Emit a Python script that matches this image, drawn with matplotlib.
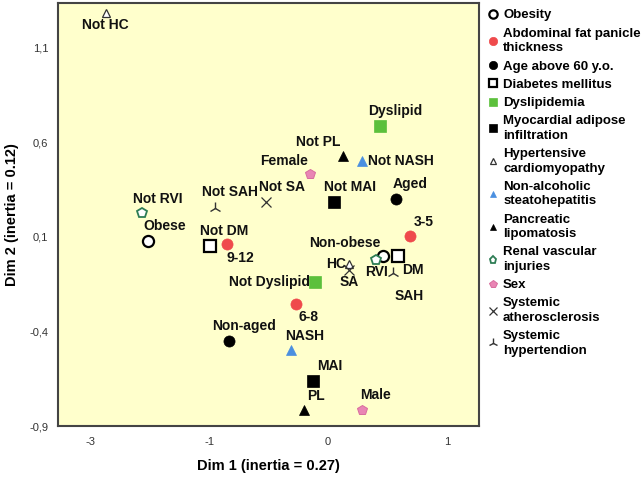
import matplotlib
matplotlib.use("Agg")
import matplotlib.pyplot as plt
from matplotlib.lines import Line2D

plt.rcParams['font.family'] = ['Liberation Sans Narrow', 'Liberation Sans', 'DejaVu Sans']

# legend groups (variables)
groups = ["Obesity", "Abdominal fat panicle\nthickness", "Age above 60 y.o.",
          "Diabetes mellitus", "Dyslipidemia", "Myocardial adipose\ninfiltration",
          "Hypertensive\ncardiomyopathy", "Non-alcoholic\nsteatohepatitis",
          "Pancreatic\nlipomatosis", "Renal vascular\ninjuries", "Sex",
          "Systemic\natherosclerosis", "Systemic\nhypertendion"]

# category points
pt_labels = ["Not HC", "Not RVI", "Obese", "Not SAH", "Not SA", "Not DM", "9-12",
             "Female", "Not PL", "Not NASH", "Dyslipid", "Not MAI", "Aged", "3-5",
             "Non-obese", "RVI", "DM", "SAH", "HC", "SA", "Not Dyslipid", "6-8",
             "Non-aged", "NASH", "MAI", "PL", "Male"]
pt_x = [-1.87, -1.56, -1.51, -0.95, -0.52, -0.99, -0.85,
        -0.15, 0.13, 0.29, 0.44, 0.05, 0.57, 0.69,
        0.46, 0.40, 0.59, 0.55, 0.18, 0.18, -0.11, -0.27,
        -0.83, -0.31, -0.13, -0.20, 0.29]
pt_y = [1.282, 0.227, 0.079, 0.252, 0.284, 0.052, 0.063,
        0.431, 0.526, 0.50, 0.689, 0.284, 0.30, 0.105,
        0.0, -0.021, 0.0, -0.09, -0.042, -0.074, -0.137, -0.253,
        -0.448, -0.50, -0.663, -0.816, -0.816]
pt_group = [6, 9, 0, 12, 11, 3, 1,
            10, 8, 7, 4, 5, 2, 1,
            0, 9, 3, 12, 6, 11, 4, 1,
            2, 7, 5, 8, 10]

x_ticks = [-2, -1, 0, 1]
x_ticklabels = ["-3", "-1", "0", "1"]
y_ticks = [-0.9, -0.4, 0.1, 0.6, 1.1]
y_ticklabels = ["-0,9", "-0,4", "0,1", "0,6", "1,1"]

# marker style per group: marker, face, edge, size, edge width
styles = [
    ("o", "white", "black", 8, 1.6),
    ("o", "#ef4a4c", "#ef4a4c", 8, 0.5),
    ("o", "black", "black", 8, 0.5),
    ("s", "white", "black", 8, 1.6),
    ("s", "#5cc03c", "#5cc03c", 8, 0.5),
    ("s", "black", "black", 8, 0.5),
    ("^", "white", "#333333", 6, 0.9),
    ("^", "#4a8fe0", "#4a8fe0", 6.5, 0.5),
    ("^", "black", "black", 6.5, 0.5),
    ("p", "white", "#2e7d55", 7, 1.3),
    ("p", "#e985b4", "#d86c9e", 7.5, 0.7),
    ("x", "none", "#333333", 7, 0.9),
    ("2", "none", "#333333", 9, 1.0),
]

# label offsets in pixels (dx, dy, ha)
offsets = [(0, -12, "center"), (15, 14, "center"), (16, 15, "center"), (15, 16, "center"),
           (16, 15, "center"), (14, 15, "center"), (13, -14, "center"),
           (-26, 13, "center"), (-25, 14, "center"), (6, 0, "left"), (15, 15, "center"),
           (16, 15, "center"), (14, 15, "center"), (14, 14, "center"),
           (-38, 13, "center"), (1, -12, "center"), (15, -14, "center"), (16, -23, "center"),
           (-3, 0, "right"), (0, -12, "center"), (-5, 0, "right"), (13, -13, "center"),
           (15, 15, "center"), (14, 14, "center"), (17, 15, "center"), (12, 14, "center"),
           (13, 15, "center")]

fig = plt.figure(figsize=(6.41, 4.78), dpi=100)
ax = fig.add_axes([58 / 641, 52 / 478, 421 / 641, 423 / 478])
ax.set_facecolor("#ffffcc")

for i in range(len(pt_labels)):
    m, fc, ec, ms, mew = styles[pt_group[i]]
    ax.plot(pt_x[i], pt_y[i], marker=m, markerfacecolor=fc, markeredgecolor=ec,
            markersize=ms, markeredgewidth=mew, linestyle="none", zorder=3)
    dx, dy, ha = offsets[i]
    ax.annotate(pt_labels[i], (pt_x[i], pt_y[i]), xytext=(dx, dy),
                textcoords="offset pixels", ha=ha, va="center",
                fontsize=10, fontweight="bold", color="#111111")

ax.set_xlim(-2.27, 1.27)
ax.set_ylim(-0.9, 1.337)
ax.set_xticks(x_ticks)
ax.set_xticklabels(x_ticklabels)
ax.set_yticks(y_ticks)
ax.set_yticklabels(y_ticklabels)
ax.tick_params(length=0, labelsize=8, colors="#333333")
ax.tick_params(axis="x", pad=8)
ax.tick_params(axis="y", pad=7)
for s in ax.spines.values():
    s.set_linewidth(1.5)
    s.set_color("#444444")

ax.set_xlabel("Dim 1 (inertia = 0.27)", fontsize=10.5, fontweight="bold")
ax.set_ylabel("Dim 2 (inertia = 0.12)", fontsize=10.5, fontweight="bold")
ax.xaxis.set_label_coords(0.5, -0.078)
ax.yaxis.set_label_coords(-0.093, 0.5)

handles = []
for m, fc, ec, ms, mew in styles:
    handles.append(Line2D([], [], marker=m, markerfacecolor=fc, markeredgecolor=ec,
                          markersize=ms * 0.75, markeredgewidth=mew, linestyle="none"))
leg = fig.legend(handles, groups, loc="upper left", bbox_to_anchor=(478 / 641, 1.0),
                 frameon=False, prop={"weight": "bold", "size": 9.5},
                 handlelength=0.8, handletextpad=0.4, labelspacing=0.46,
                 borderaxespad=0.3)
for t in leg.get_texts():
    t.set_linespacing(1.3)

fig.savefig("out.png", dpi=100)
